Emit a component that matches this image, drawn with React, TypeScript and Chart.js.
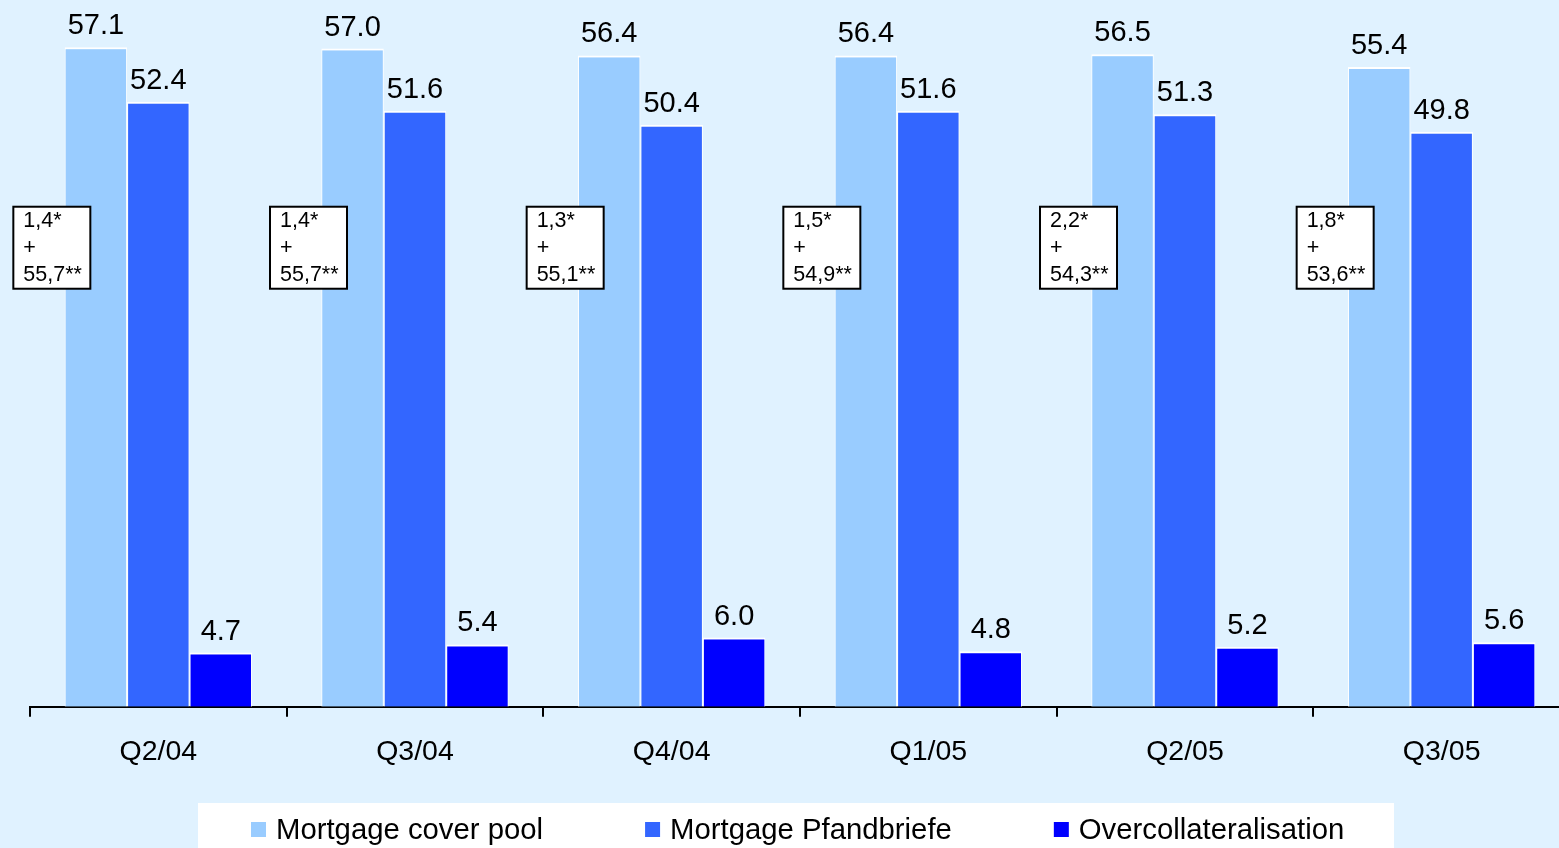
import React, { useEffect, useRef } from "react";
import { Chart, registerables } from "chart.js";

Chart.register(...registerables);

const categories = ["Q2/04", "Q3/04", "Q4/04", "Q1/05", "Q2/05", "Q3/05"];
const coverPool = [57.1, 57.0, 56.4, 56.4, 56.5, 55.4];
const pfandbriefe = [52.4, 51.6, 50.4, 51.6, 51.3, 49.8];
const overcollateralisation = [4.7, 5.4, 6.0, 4.8, 5.2, 5.6];
const noteFirst = ["1,4*", "1,4*", "1,3*", "1,5*", "2,2*", "1,8*"];
const noteSecond = ["55,7**", "55,7**", "55,1**", "54,9**", "54,3**", "53,6**"];
const seriesLabels = ["Mortgage cover pool", "Mortgage Pfandbriefe", "Overcollateralisation"];

const FONT = "'Liberation Sans', Arial, sans-serif";
const BG = "#E0F2FF";

const overlayPlugin = {
  id: "overlay",
  afterDatasetsDraw(chart: any) {
    const ctx = chart.ctx;
    ctx.save();
    // value labels
    ctx.font = `29px ${FONT}`;
    ctx.fillStyle = "#000";
    ctx.textAlign = "center";
    ctx.textBaseline = "alphabetic";
    chart.data.datasets.forEach((ds: any, di: number) => {
      const meta = chart.getDatasetMeta(di);
      meta.data.forEach((bar: any, i: number) => {
        ctx.fillText(Number(ds.data[i]).toFixed(1), bar.x, bar.y - 13);
      });
    });
    // note boxes
    const xScale = chart.scales.x;
    const yScale = chart.scales.y;
    categories.forEach((_, i) => {
      const cx = xScale.getPixelForValue(i);
      const left = cx - 145;
      const top = yScale.getPixelForValue(43.3);
      const w = 77;
      const h = 82;
      ctx.fillStyle = "#fff";
      ctx.fillRect(left, top, w, h);
      ctx.strokeStyle = "#000";
      ctx.lineWidth = 2;
      ctx.strokeRect(left, top, w, h);
      ctx.fillStyle = "#000";
      ctx.font = `21.5px ${FONT}`;
      ctx.textAlign = "left";
      ctx.textBaseline = "middle";
      ctx.fillText(noteFirst[i], left + 10, top + 14);
      ctx.fillText("+", left + 10, top + 41);
      ctx.fillText(noteSecond[i], left + 10, top + 68);
    });
    // legend
    ctx.fillStyle = "#fff";
    ctx.fillRect(198, 803, 1196, 60);
    ctx.font = `29.3px ${FONT}`;
    ctx.textAlign = "left";
    ctx.textBaseline = "middle";
    let x = 251;
    chart.data.datasets.forEach((ds: any) => {
      ctx.fillStyle = ds.backgroundColor;
      ctx.fillRect(x, 822, 15, 15);
      ctx.fillStyle = "#000";
      ctx.fillText(ds.label, x + 25, 831);
      x += 25 + ctx.measureText(ds.label).width + 102;
    });
    ctx.restore();
  },
};

export default function App() {
  const canvasRef = useRef<HTMLCanvasElement>(null);
  useEffect(() => {
    const canvas = canvasRef.current;
    if (!canvas) return;
    const bw = { top: 2, left: 1, right: 1, bottom: 0 } as any;
    const chart = new Chart(canvas, {
      type: "bar",
      data: {
        labels: categories,
        datasets: [
          { label: seriesLabels[0], data: coverPool, backgroundColor: "#99CCFF", borderColor: "#FFFFFF", borderWidth: bw, borderSkipped: false as any },
          { label: seriesLabels[1], data: pfandbriefe, backgroundColor: "#3366FF", borderColor: "#FFFFFF", borderWidth: bw, borderSkipped: false as any },
          { label: seriesLabels[2], data: overcollateralisation, backgroundColor: "#0000FF", borderColor: "#FFFFFF", borderWidth: bw, borderSkipped: false as any },
        ],
      },
      options: {
        responsive: false,
        animation: false,
        devicePixelRatio: 1,
        layout: { padding: { left: 30, right: 0, top: 0, bottom: 61 } },
        datasets: { bar: { categoryPercentage: 0.73, barPercentage: 1.0 } },
        plugins: { legend: { display: false }, tooltip: { enabled: false } },
        scales: {
          x: {
            grid: { display: true, drawOnChartArea: false, offset: true, tickLength: 10, color: "#000", lineWidth: 2 },
            border: { display: true, color: "#000", width: 2 },
            ticks: { color: "#000", font: { family: FONT, size: 28.5 }, padding: 18 },
          },
          y: { display: false, min: 0, max: 61.2 },
        },
      },
      plugins: [overlayPlugin],
    });
    return () => chart.destroy();
  }, []);
  return (
    <div style={{ position: "absolute", left: 0, top: 0, width: 1559, height: 848, overflow: "hidden", background: BG }}>
      <canvas ref={canvasRef} width={1570} height={848} style={{ display: "block" }} />
    </div>
  );
}
